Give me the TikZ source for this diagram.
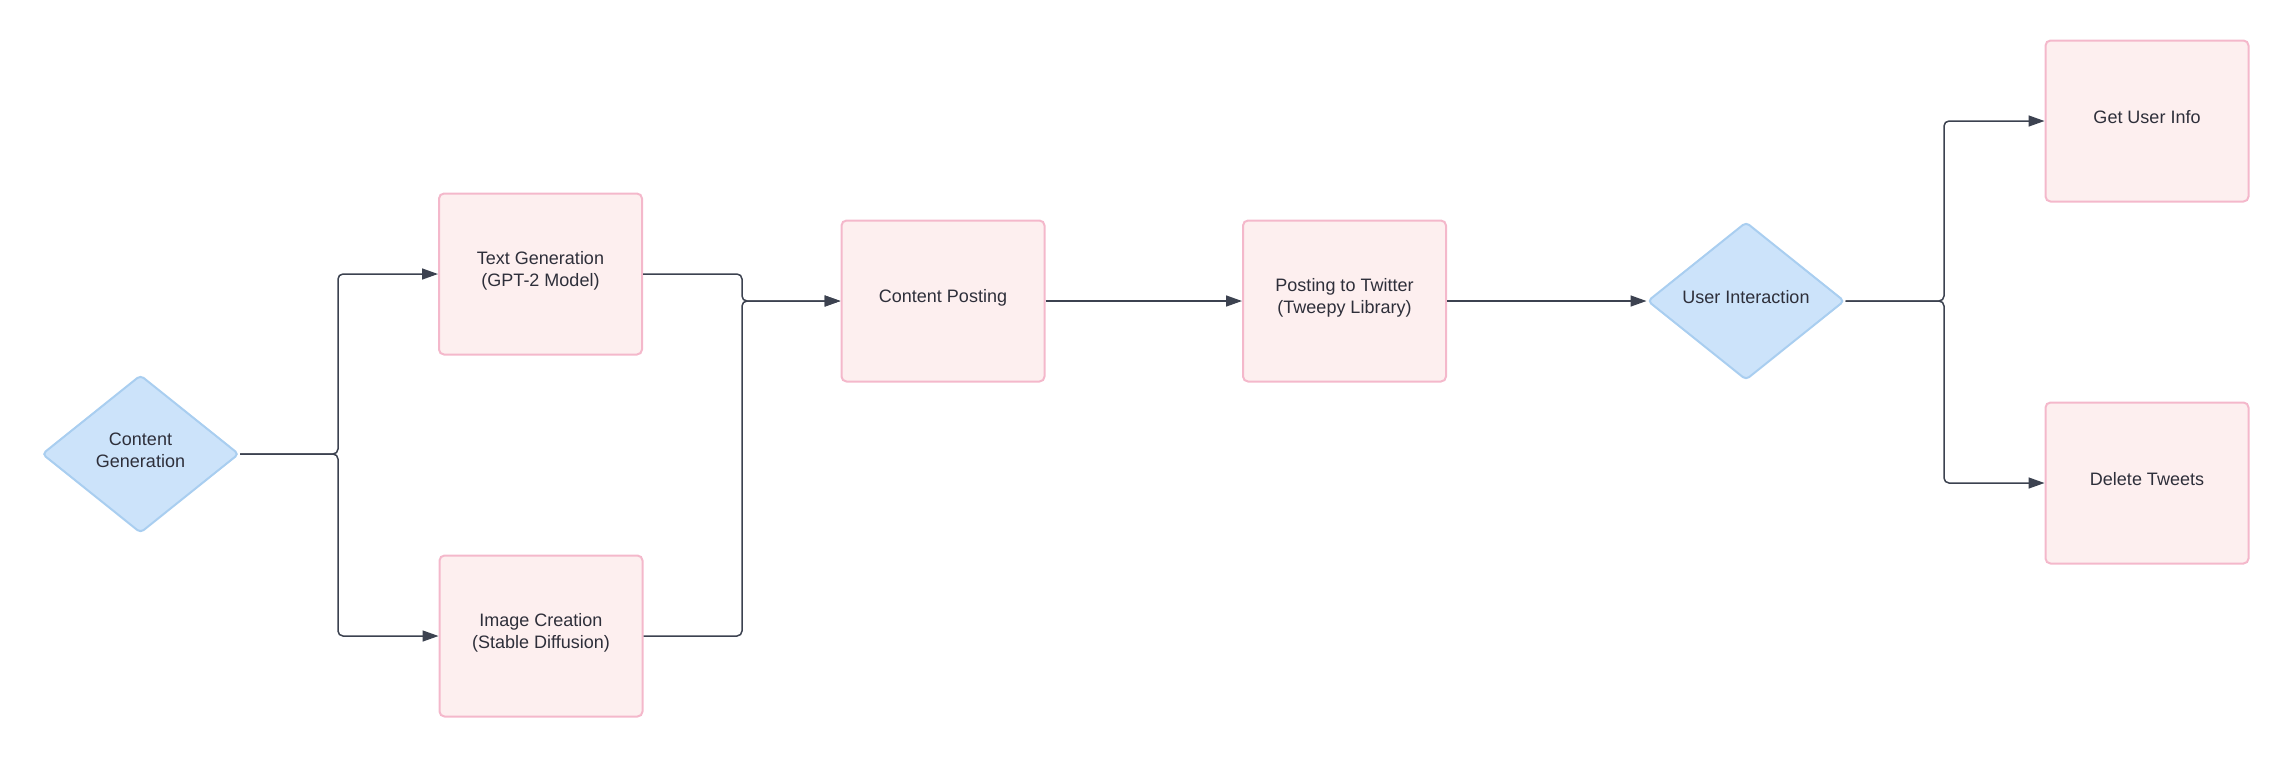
\documentclass[tikz,border=0pt]{standalone}
\usepackage{fontspec}
\setmainfont{Liberation Sans}
\usetikzlibrary{shapes.geometric,arrows.meta}
\definecolor{boxfill}{HTML}{FDEFEF}
\definecolor{boxdraw}{HTML}{F4B8CB}
\definecolor{diafill}{HTML}{CCE3FA}
\definecolor{diadraw}{HTML}{A9CEF0}
\definecolor{linec}{HTML}{3C4250}
\definecolor{textc}{HTML}{2E2F3A}
\begin{document}
\begin{tikzpicture}[x=0.5pt,y=-0.5pt,
  txt/.style={align=center, inner sep=0pt, font=\fontsize{9}{11}\selectfont, text=textc, yshift=1.8pt},
  box/.style={rectangle, rounded corners=2.5pt, draw=boxdraw, fill=boxfill, line width=1pt,
    minimum width=101.5pt, minimum height=80.5pt, inner sep=0pt,
    label={[txt]center:#1}},
  dia/.style={diamond, rounded corners=2pt, draw=diadraw, fill=diafill, line width=1pt,
    minimum width=98.5pt, minimum height=79pt, inner sep=0pt,
    label={[txt]center:#1}},
  conn/.style={draw=linec, line width=0.75pt, rounded corners=2.5pt,
    -{Triangle[length=8pt,width=5.5pt,fill=linec]}}]
\useasboundingbox (0,0) rectangle (2288,757);
\node[dia={Content\\Generation}] (cg) at (140.5,454) {};
\node[box={Text Generation\\(GPT-2 Model)}] (tg) at (540.5,274) {};
\node[box={Image Creation\\(Stable Diffusion)}] (ic) at (541,636) {};
\node[box={Content Posting}] (cp) at (943,301) {};
\node[box={Posting to Twitter\\(Tweepy Library)}] (pt) at (1344.5,301) {};
\node[dia={User Interaction}] (ui) at (1746,301) {};
\node[box={Get User Info}] (gu) at (2147,121) {};
\node[box={Delete Tweets}] (dt) at (2147,483) {};
\coordinate (j1) at (338,454);
\coordinate (j2) at (742,301);
\coordinate (j3) at (1944,301);
\draw[conn] (cg.east) -- (j1) |- (tg.west);
\draw[conn] (cg.east) -- (j1) |- (ic.west);
\draw[conn] (tg.east) -| (j2) -- (cp.west);
\draw[conn] (ic.east) -| (j2) -- (cp.west);
\draw[conn] (cp.east) -- (pt.west);
\draw[conn] (pt.east) -- (ui.west);
\draw[conn] (ui.east) -- (j3) |- (gu.west);
\draw[conn] (ui.east) -- (j3) |- (dt.west);
\end{tikzpicture}
\end{document}
